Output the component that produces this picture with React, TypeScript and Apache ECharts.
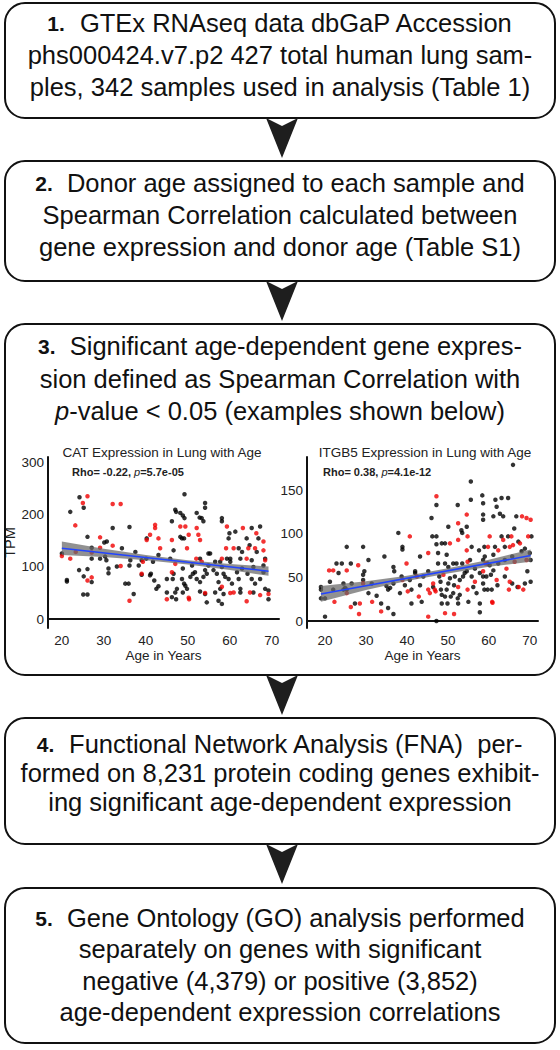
import React, { useEffect, useRef } from "react";
import * as echarts from "echarts";

// ---------- Flowchart text ----------
const box1Lines = [
  "{b|1.}  GTEx RNAseq data dbGaP Accession",
  "phs000424.v7.p2 427 total human lung sam-",
  "ples, 342 samples used in analysis (Table 1)",
];
const box2Lines = [
  "{b|2.}  Donor age assigned to each sample and",
  "Spearman Correlation calculated between",
  "gene expression and donor age (Table S1)",
];
const box3Lines = [
  "{b|3.}  Significant age-dependent gene expres-",
  "sion defined as Spearman Correlation with",
  "{i|p}-value < 0.05 (examples shown below)",
];
const box4Lines = [
  "{b|4.}  Functional Network Analysis (FNA)  per-",
  "formed on 8,231 protein coding genes exhibit-",
  "ing significant age-dependent expression",
];
const box5Lines = [
  "{b|5.}  Gene Ontology (GO) analysis performed",
  "separately on genes with significant",
  "negative (4,379) or positive (3,852)",
  "age-dependent expression correlations",
];

// ---------- Chart texts ----------
const catTitle = "CAT Expression in Lung with Age";
const itgTitle = "ITGB5 Expression in Lung with Age";
const catStat = "{b|Rho= -0.22, }{i|p}{b|=5.7e-05}";
const itgStat = "{b|Rho= 0.38, }{i|p}{b|=4.1e-12}";
const xName = "Age in Years";
const catYName = "TPM";
const ageTicks = [20, 30, 40, 50, 60, 70];
const catTicks = [0, 100, 200, 300];
const itgTicks = [0, 50, 100, 150];

// ---------- CAT data [age, TPM] ----------
const catBlack = [
  [20.0,126],[21.2,75],[21.2,72],[22.0,206],[24.2,234],[25.2,214],[26.1,158],[24.1,94],[25.2,82],[26.1,96],
  [25.1,47],[26.1,47],[27.1,137],[27.1,71],[27.1,116],[30.1,147],[30.7,149],[30.6,113],[31.1,97],[31.1,88],
  [30.3,120],[29.1,116],[32.1,175],[33.1,101],[35.1,68],[35.9,68],[34.3,136],[36.1,177],[37.1,48],[36.3,113],
  [36.1,103],[37.5,129],[38.3,103],[39.0,113],[39.0,85],[40.1,116],[40.2,155],[41.0,84],[41.2,87],[42.0,74],
  [41.7,110],[43.0,63],[42.5,58],[43.0,123],[45.0,77],[46.2,188],[45.0,51],[46.4,77],[46.6,132],[47.0,210],
  [47.2,206],[45.8,116],[47.2,38],[46.2,42],[47.0,51],[46.6,87],[47.4,58],[48.2,204],[48.8,199],[49.2,240],
  [49.2,194],[48.2,158],[48.6,155],[48.6,77],[48.8,51],[49.1,68],[49.4,64],[50.6,81],[49.8,58],[51.0,103],
  [51.2,87],[48.8,97],[49.1,155],[52.1,204],[52.8,195],[53.3,194],[54.1,223],[54.1,214],[53.7,188],[52.9,116],
  [51.7,90],[52.1,77],[52.9,71],[53.7,81],[54.1,94],[54.5,87],[54.5,32],[54.1,48],[52.9,53],[54.9,103],
  [54.9,126],[55.3,126],[56.5,110],[56.1,94],[56.9,87],[57.3,71],[57.7,58],[58.1,194],[58.1,188],[57.7,110],
  [58.1,100],[58.5,87],[58.9,81],[58.5,48],[57.3,35],[58.1,29],[56.5,51],[59.3,116],[60.1,116],[60.1,110],
  [59.9,165],[59.7,155],[59.7,77],[60.5,68],[61.3,168],[62.1,136],[62.5,116],[61.7,90],[62.1,77],[62.5,51],
  [62.5,58],[62.9,129],[62.9,97],[64.0,155],[64.7,142],[65.2,113],[65.6,100],[64.2,87],[65.2,77],[66.0,68],
  [65.6,51],[66.4,129],[65.2,175],[66.8,155],[67.2,178],[68.4,116],[68.0,90],[67.2,77],[68.4,58],[69.2,55],
  [69.2,38],[68.0,103],
];
const catRed = [
  [20.0,121],[22.0,116],[23.2,180],[23.3,129],[25.0,223],[26.1,236],[26.1,74],[27.1,128],[27.1,80],[29.1,157],
  [29.1,137],[32.1,141],[32.1,221],[34.0,221],[34.0,102],[36.1,35],[39.0,87],[39.3,110],[40.2,152],[41.0,162],
  [42.2,181],[42.2,175],[43.0,155],[43.4,136],[45.0,38],[46.2,90],[46.2,152],[47.0,106],[48.2,178],[49.4,178],
  [50.2,162],[49.8,136],[50.3,38],[52.1,175],[52.5,162],[52.9,152],[52.0,116],[53.3,110],[58.1,116],[59.3,178],
  [59.1,136],[60.9,51],[60.9,136],[63.1,175],[64.4,136],[64.0,116],[64.8,51],[64.0,34],[66.0,136],[66.3,165],
  [68.0,149],[68.0,132],[68.4,113],[67.2,46],[69.2,48],[50.2,41],[54.1,50],[58.1,62],[60.1,50],
];
const catFit = [[20, 136], [69.2, 92]];
const catBandAge = [20, 30, 40, 50, 60, 69.2];
const catBandLow = [123, 119, 113, 105, 94, 83];
const catBandHigh = [149, 135, 123, 113, 106, 101];

// ---------- ITGB5 data [age, TPM] ----------
const itgBlack = [
  [19.0,39],[19.0,36],[19.0,26],[20.0,26],[20.0,5],[21.2,45],[22.0,36],[22.8,66],[23.3,55],[24.1,66],
  [24.5,43],[24.5,36],[24.9,38],[25.3,85],[25.3,36],[26.3,66],[26.5,43],[27.3,20],[29.3,85],[29.3,53],
  [29.3,47],[29.6,57],[30.6,70],[31.4,43],[30.6,32],[32.6,29],[33.7,20],[34.5,74],[35.0,40],[35.4,36],
  [35.4,15],[35.9,38],[36.7,62],[36.9,57],[36.7,43],[36.7,8],[37.9,101],[38.3,32],[38.7,51],[38.9,85],
  [38.9,82],[39.5,41],[40.7,47],[41.1,36],[41.1,20],[42.0,57],[42.0,55],[43.2,41],[43.2,74],[43.6,22],
  [44.0,51],[45.2,57],[46.0,118],[46.2,97],[46.4,39],[47.2,133],[47.2,97],[47.2,88],[47.6,78],[47.6,66],
  [47.9,51],[48.2,45],[48.3,36],[48.5,89],[48.5,30],[48.5,20],[49.3,89],[49.3,66],[49.3,28],[49.7,76],
  [49.9,20],[50.1,108],[50.1,43],[50.1,62],[49.7,36],[50.5,49],[50.7,28],[51.3,66],[51.3,32],[51.5,41],
  [51.7,51],[52.1,66],[52.4,133],[52.4,26],[52.5,20],[52.9,47],[52.9,30],[53.3,104],[53.5,101],[53.5,66],
  [53.7,51],[54.1,55],[54.6,108],[54.6,57],[55.0,22],[55.4,70],[55.6,160],[55.6,139],[55.8,85],[55.8,51],
  [56.2,39],[56.6,60],[57.0,32],[57.6,81],[57.8,55],[57.8,20],[58.4,144],[58.6,135],[58.6,122],[58.6,116],
  [58.6,70],[58.6,51],[58.6,43],[58.9,36],[58.9,85],[59.0,74],[59.4,51],[59.7,36],[59.7,66],[60.2,64],
  [60.5,53],[60.7,36],[61.1,120],[61.1,76],[61.1,58],[61.5,85],[61.6,139],[61.9,131],[62.1,41],[62.3,66],
  [62.7,123],[63.1,141],[63.1,97],[63.5,120],[63.9,85],[63.9,70],[63.9,51],[64.7,141],[64.7,97],[65.7,74],
  [65.7,43],[66.2,106],[66.7,120],[67.0,39],[67.2,91],[68.0,80],[68.8,83],[68.8,43],[69.4,57],[70.0,78],
  [70.2,70],[70.2,45],[70.4,97],[65.9,179],[47.2,0],[57.8,10],
];
const itgRed = [
  [21.0,58],[22.0,58],[22.3,22],[25.3,58],[25.3,32],[26.3,16],[28.1,64],[28.5,20],[29.3,43],[31.5,22],
  [33.7,11],[38.9,47],[39.9,66],[40.2,34],[40.7,97],[42.4,51],[42.9,28],[45.2,78],[45.2,36],[45.6,32],
  [46.4,43],[46.8,36],[47.0,34],[47.2,143],[48.9,53],[50.5,89],[52.5,112],[52.5,93],[52.5,39],[54.6,122],
  [54.8,97],[54.6,81],[54.8,68],[54.8,36],[56.6,45],[58.6,57],[59.2,66],[59.8,85],[60.2,97],[60.8,22],
  [61.9,47],[62.3,81],[63.5,93],[64.3,60],[64.9,36],[65.1,45],[65.1,85],[65.5,97],[65.9,87],[66.3,68],
  [67.3,39],[67.6,89],[68.1,120],[68.4,36],[69.2,118],[69.2,70],[69.6,97],[70.2,116],[45.2,5],[49.3,9],
  [51.5,8],[28.3,8],[60.9,21],
];
const itgFit = [[19, 31], [70.2, 75]];
const itgBandAge = [19, 30, 40, 50, 60, 70.2];
const itgBandLow = [22, 35.5, 46, 54.6, 62.2, 68];
const itgBandHigh = [40, 45.5, 52, 60.6, 70.2, 82];

const FONT = "'Liberation Sans', Arial, sans-serif";
const BODY = 25.5;
const NUM = 21;

function boxGraphics(y0: number, h: number, lines: string[], lineYs: number[]) {
  const els: any[] = [
    {
      type: "rect",
      shape: { x: 5, y: y0, width: 550, height: h, r: 20 },
      style: { fill: "none", stroke: "#111", lineWidth: 2 },
      z: 1,
    },
  ];
  lines.forEach((t, i) => {
    els.push({
      type: "text",
      x: 280,
      y: lineYs[i],
      z: 5,
      style: {
        text: t,
        fill: "#111",
        fontSize: BODY,
        fontFamily: FONT,
        align: "center",
        verticalAlign: "middle",
        rich: {
          b: { fontSize: NUM, fontWeight: "bold", fontFamily: FONT, fill: "#111" },
          i: { fontSize: BODY, fontStyle: "italic", fontFamily: FONT, fill: "#111" },
        },
      },
    });
  });
  return els;
}

function arrow(yTop: number) {
  return {
    type: "polygon",
    z: 6,
    shape: {
      points: [
        [266, yTop],
        [282, yTop + 8],
        [298, yTop],
        [282, yTop + 40],
      ],
    },
    style: { fill: "#1e1e1e" },
  };
}

function bandSeries(idx: number, ages: number[], lo: number[], hi: number[]) {
  return {
    type: "custom",
    xAxisIndex: idx,
    yAxisIndex: idx,
    z: 3,
    silent: true,
    data: ages.map((a, i) => [a, lo[i], hi[i]]),
    renderItem: (params: any, api: any) => {
      if (params.dataIndex !== 0) return { type: "group", children: [] };
      const pts: number[][] = [];
      for (let i = 0; i < ages.length; i++) pts.push(api.coord([ages[i], hi[i]]));
      for (let i = ages.length - 1; i >= 0; i--) pts.push(api.coord([ages[i], lo[i]]));
      return {
        type: "polygon",
        shape: { points: pts },
        style: { fill: "#666666", opacity: 0.72 },
      };
    },
  };
}

export default function App() {
  const ref = useRef<HTMLDivElement>(null);
  useEffect(() => {
    if (!ref.current) return;
    const chart = echarts.init(ref.current, undefined, { renderer: "svg" });

    const axisLine = { show: true, lineStyle: { color: "#111", width: 2 } };
    const lbl = { color: "#222", fontSize: 13.5, fontFamily: FONT };

    const graphics: any[] = [
      ...boxGraphics(3, 115, box1Lines, [23, 55, 87]),
      arrow(118),
      ...boxGraphics(161, 120, box2Lines, [183, 215, 247]),
      arrow(281),
      ...boxGraphics(324, 351, box3Lines, [346, 379, 411]),
      arrow(675),
      ...boxGraphics(718, 126, box4Lines, [744, 773, 802]),
      arrow(844),
      ...boxGraphics(888, 155, box5Lines, [918, 949, 981, 1012]),
      {
        type: "text", x: 162, y: 452, z: 5,
        style: { text: catTitle, fill: "#222", fontSize: 13.5, fontFamily: FONT, align: "center", verticalAlign: "middle" },
      },
      {
        type: "text", x: 425, y: 452, z: 5,
        style: { text: itgTitle, fill: "#222", fontSize: 13.5, fontFamily: FONT, align: "center", verticalAlign: "middle" },
      },
      {
        type: "text", x: 72, y: 472, z: 5,
        style: {
          text: catStat, fill: "#222", fontSize: 11, fontFamily: FONT, align: "left", verticalAlign: "middle",
          rich: {
            b: { fontSize: 11, fontWeight: "bold", fontFamily: FONT, fill: "#222" },
            i: { fontSize: 11, fontStyle: "italic", fontFamily: FONT, fill: "#222" },
          },
        },
      },
      {
        type: "text", x: 323, y: 472, z: 5,
        style: {
          text: itgStat, fill: "#222", fontSize: 11, fontFamily: FONT, align: "left", verticalAlign: "middle",
          rich: {
            b: { fontSize: 11, fontWeight: "bold", fontFamily: FONT, fill: "#222" },
            i: { fontSize: 11, fontStyle: "italic", fontFamily: FONT, fill: "#222" },
          },
        },
      },
    ];

    const option: any = {
      animation: false,
      backgroundColor: "#ffffff",
      graphic: graphics,
      grid: [
        { left: 48, top: 457, width: 231, height: 171 },
        { left: 307, top: 457, width: 231, height: 171 },
      ],
      xAxis: [
        {
          type: "value", gridIndex: 0, min: 16.7, max: 71.7,
          axisLine, axisTick: { show: false }, splitLine: { show: false },
          axisLabel: { ...lbl, margin: 5, customValues: ageTicks },
          name: xName, nameLocation: "middle", nameGap: 20,
          nameTextStyle: { ...lbl },
        },
        {
          type: "value", gridIndex: 1, min: 15.6, max: 72,
          axisLine, axisTick: { show: false }, splitLine: { show: false },
          axisLabel: { ...lbl, margin: 5, customValues: ageTicks },
          name: xName, nameLocation: "middle", nameGap: 20,
          nameTextStyle: { ...lbl },
        },
      ],
      yAxis: [
        {
          type: "value", gridIndex: 0, min: -17.3, max: 311.5,
          axisLine, axisTick: { show: false }, splitLine: { show: false },
          axisLabel: { ...lbl, margin: 4, customValues: catTicks },
          name: catYName, nameLocation: "middle", nameGap: 30,
          nameTextStyle: { ...lbl, fontSize: 14.5 },
        },
        {
          type: "value", gridIndex: 1, min: -8, max: 188,
          axisLine, axisTick: { show: false }, splitLine: { show: false },
          axisLabel: { ...lbl, margin: 4, customValues: itgTicks },
        },
      ],
      series: [
        {
          type: "scatter", xAxisIndex: 0, yAxisIndex: 0, data: catBlack,
          symbolSize: 4.5, itemStyle: { color: "#000" }, z: 2,
        },
        {
          type: "scatter", xAxisIndex: 0, yAxisIndex: 0, data: catRed,
          symbolSize: 4.5, itemStyle: { color: "#f00000" }, z: 2,
        },
        bandSeries(0, catBandAge, catBandLow, catBandHigh),
        {
          type: "line", xAxisIndex: 0, yAxisIndex: 0, data: catFit, symbol: "none", z: 4,
          lineStyle: { color: "#2244ff", width: 1.5 },
        },
        {
          type: "scatter", xAxisIndex: 1, yAxisIndex: 1, data: itgBlack,
          symbolSize: 4.5, itemStyle: { color: "#000" }, z: 2,
        },
        {
          type: "scatter", xAxisIndex: 1, yAxisIndex: 1, data: itgRed,
          symbolSize: 4.5, itemStyle: { color: "#f00000" }, z: 2,
        },
        bandSeries(1, itgBandAge, itgBandLow, itgBandHigh),
        {
          type: "line", xAxisIndex: 1, yAxisIndex: 1, data: itgFit, symbol: "none", z: 4,
          lineStyle: { color: "#2244ff", width: 1.5 },
        },
      ],
    };
    chart.setOption(option);
    return () => chart.dispose();
  }, []);

  return (
    <div
      ref={ref}
      style={{ position: "absolute", left: 0, top: 0, width: 560, height: 1050, background: "#fff" }}
    />
  );
}
